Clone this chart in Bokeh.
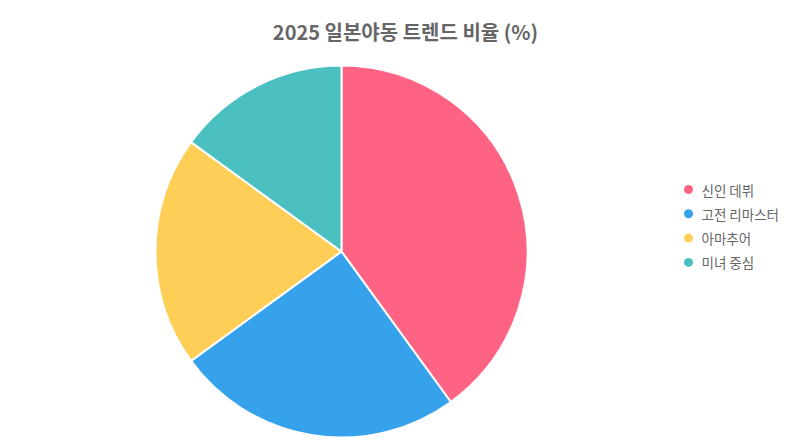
import math
from bokeh.plotting import figure
from bokeh.models import Range1d, ColumnDataSource
from bokeh.core.properties import value
from bokeh.embed import file_html
from bokeh.resources import INLINE

title_text = "2025 일본야동 트렌드 비율 (%)"
categories = ["신인 데뷔", "고전 리마스터", "아마추어", "미녀 중심"]
shares = [40, 25, 20, 15]
colors = ["#FF6384", "#36A2EB", "#FFCE56", "#4BC0C0"]

W, H = 800, 442
p = figure(width=W, height=H, output_backend="svg", toolbar_location=None,
           x_range=Range1d(0, W), y_range=Range1d(-H, 0),
           min_border=0, outline_line_color=None,
           background_fill_color="white", border_fill_color="white")
p.axis.visible = False
p.grid.visible = False

total = sum(shares)
starts, ends = [], []
acc = 0.0
for s in shares:
    a0 = math.pi / 2 - 2 * math.pi * acc / total
    acc += s
    a1 = math.pi / 2 - 2 * math.pi * acc / total
    starts.append(a0)
    ends.append(a1)

src = ColumnDataSource(dict(start=starts, end=ends, color=colors, cat=categories))
cx, cy, r = 341, -251, 186
p.wedge(x=cx, y=cy, radius=r, start_angle="start", end_angle="end",
        direction="clock", fill_color="color", line_color="white", line_width=2,
        source=src)

# title
p.text(x=[405], y=[-31], text=[title_text], text_font=value("Noto Sans CJK KR"),
       text_font_style="bold", text_font_size="20px", text_color="#666666",
       text_align="center", text_baseline="middle")

# legend
ly = [-(189 + 24.3 * i) for i in range(len(categories))]
p.scatter(x=[688] * len(categories), y=ly, size=9, fill_color=colors, line_color=None)
p.text(x=[701] * len(categories), y=ly, text=categories, text_font=value("Noto Sans CJK KR"),
       text_font_size="13.5px", text_color="#666666", text_align="left",
       text_baseline="middle")

open("out.html", "w").write(file_html(p, INLINE))
